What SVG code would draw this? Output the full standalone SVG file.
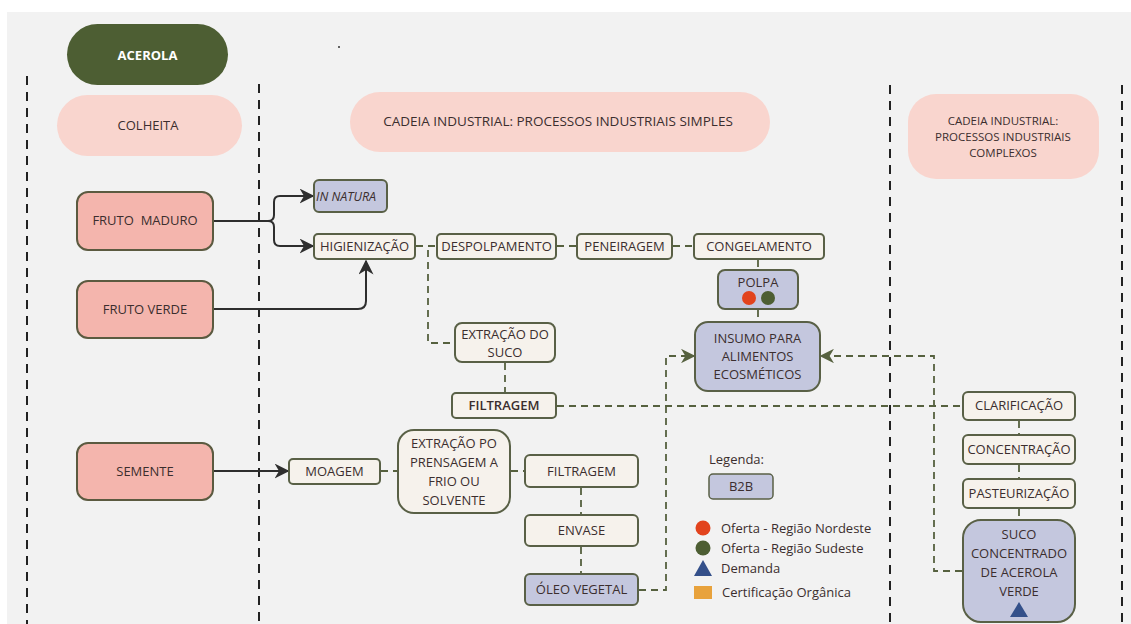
<svg xmlns="http://www.w3.org/2000/svg" width="1131" height="624" viewBox="0 0 1131 624">
  <defs>
    <style>
      text { font-family: "Open Sans", "Noto Sans", "Liberation Sans", sans-serif; fill: #3b2e2e; font-size: 13px; text-anchor: middle; }
      .pill { fill: #f9d5ce; }
      .src { fill: #f4b5ad; stroke: #5b5a40; stroke-width: 2; }
      .step { fill: #f6f2ec; stroke: #596046; stroke-width: 2; }
      .prod { fill: #c4c7de; stroke: #596046; stroke-width: 2; }
      .lane { stroke: #222; stroke-width: 2; stroke-dasharray: 9 7; fill: none; }
      .solid { stroke: #2e2e2e; stroke-width: 2; fill: none; }
      .dash { stroke: #56613f; stroke-width: 1.8; stroke-dasharray: 7 5; fill: none; }
      .leg { text-anchor: start; font-size: 13px; }
    </style>
    <marker id="arrowDark" viewBox="0 0 10 10" refX="9" refY="5" markerWidth="7.5" markerHeight="7.5" orient="auto" markerUnits="strokeWidth">
      <path d="M0,0 L10,5 L0,10 L3,5 Z" fill="#2e2e2e"/>
    </marker>
    <marker id="arrowGreen" viewBox="0 0 10 10" refX="9" refY="5" markerWidth="8" markerHeight="8" orient="auto" markerUnits="strokeWidth">
      <path d="M0,0 L10,5 L0,10 L3,5 Z" fill="#56613f"/>
    </marker>
  </defs>

  <!-- canvas -->
  <rect x="0" y="0" width="1131" height="624" fill="#ffffff"/>
  <rect x="7" y="12" width="1124" height="612" fill="#f2f2f2"/>
  <circle cx="339" cy="47" r="1" fill="#333"/>

  <!-- lane separators -->
  <g id="lanes">
    <line class="lane" x1="27" y1="76" x2="27" y2="624"/>
    <line class="lane" x1="259" y1="84" x2="259" y2="624"/>
    <line class="lane" x1="890" y1="85" x2="890" y2="624"/>
    <line class="lane" x1="1122" y1="85" x2="1122" y2="624"/>
  </g>

  <!-- headers -->
  <g id="acerola">
    <rect x="67" y="24" width="161" height="61" rx="30.5" fill="#4d5e33"/>
    <text x="147.5" y="60" style="fill:#fff;font-weight:700;font-size:13px">ACEROLA</text>
  </g>
  <g id="colheita">
    <rect class="pill" x="57" y="95" width="185" height="61" rx="30.5"/>
    <text x="148" y="130">COLHEITA</text>
  </g>
  <g id="cadeia-simples">
    <rect class="pill" x="350" y="92" width="420" height="60" rx="30"/>
    <text x="558" y="126" style="font-size:13.5px">CADEIA INDUSTRIAL: PROCESSOS INDUSTRIAIS SIMPLES</text>
  </g>
  <g id="cadeia-complexa">
    <rect class="pill" x="908" y="94" width="191" height="85" rx="28"/>
    <text x="1003" y="125" style="font-size:11.5px">CADEIA INDUSTRIAL:</text>
    <text x="1003" y="141" style="font-size:11.5px">PROCESSOS INDUSTRIAIS</text>
    <text x="1003" y="157" style="font-size:11.5px">COMPLEXOS</text>
  </g>

  <!-- connectors -->
  <g id="connectors">
    <!-- solid: harvest to processing -->
    <path class="solid" d="M214,221 H268 Q274,221 274,215 V202 Q274,196 280,196 H313" marker-end="url(#arrowDark)"/>
    <path class="solid" d="M268,221 Q274,221 274,227 V240 Q274,246 280,246 H313" marker-end="url(#arrowDark)"/>
    <path class="solid" d="M214,309 H358 Q366,309 366,301 V261" marker-end="url(#arrowDark)"/>
    <path class="solid" d="M214,471 H288" marker-end="url(#arrowDark)"/>

    <!-- dashed: pulp line -->
    <line class="dash" x1="416" y1="246" x2="437" y2="246"/>
    <line class="dash" x1="557" y1="246" x2="577" y2="246"/>
    <line class="dash" x1="673" y1="246" x2="694" y2="246"/>
    <line class="dash" x1="758" y1="260" x2="758" y2="270"/>
    <line class="dash" x1="758" y1="310" x2="758" y2="322"/>
    <path class="dash" d="M428,250 V343 H455"/>
    <line class="dash" x1="505" y1="363" x2="505" y2="393"/>
    <line class="dash" x1="557" y1="406" x2="963" y2="406"/>

    <!-- dashed: seed line -->
    <line class="dash" x1="381" y1="471" x2="398" y2="471"/>
    <line class="dash" x1="511" y1="471" x2="525" y2="471"/>
    <line class="dash" x1="581" y1="488" x2="581" y2="515"/>
    <line class="dash" x1="581" y1="547" x2="581" y2="574"/>
    <path class="dash" d="M639,590 H666 V356 H694" marker-end="url(#arrowGreen)"/>

    <!-- dashed: complex chain -->
    <line class="dash" x1="1019" y1="421" x2="1019" y2="435"/>
    <line class="dash" x1="1019" y1="465" x2="1019" y2="479"/>
    <line class="dash" x1="1019" y1="509" x2="1019" y2="520"/>
    <path class="dash" d="M962,571 H934 V356 H821" marker-end="url(#arrowGreen)"/>
  </g>

  <!-- harvest nodes -->
  <g id="fruto-maduro">
    <rect class="src" x="77" y="192" width="136" height="58" rx="11"/>
    <text x="145" y="225" xml:space="preserve">FRUTO  MADURO</text>
  </g>
  <g id="fruto-verde">
    <rect class="src" x="77" y="281" width="136" height="57" rx="11"/>
    <text x="145" y="314">FRUTO VERDE</text>
  </g>
  <g id="semente">
    <rect class="src" x="77" y="443" width="136" height="57" rx="11"/>
    <text x="145" y="476">SEMENTE</text>
  </g>

  <!-- simple industrial processes -->
  <g id="in-natura">
    <rect class="prod" x="314" y="180" width="73" height="32" rx="5"/>
    <text x="316" y="201" style="text-anchor:start;font-style:italic;font-size:12.5px">IN NATURA</text>
  </g>
  <g id="higienizacao">
    <rect class="step" x="314" y="234" width="101" height="25" rx="4"/>
    <text x="364.5" y="251">HIGIENIZAÇÃO</text>
  </g>
  <g id="despolpamento">
    <rect class="step" x="437" y="234" width="119" height="25" rx="4"/>
    <text x="496.5" y="251">DESPOLPAMENTO</text>
  </g>
  <g id="peneiragem">
    <rect class="step" x="577" y="234" width="95" height="25" rx="4"/>
    <text x="624.5" y="251">PENEIRAGEM</text>
  </g>
  <g id="congelamento">
    <rect class="step" x="694" y="234" width="130" height="25" rx="4"/>
    <text x="759" y="251">CONGELAMENTO</text>
  </g>
  <g id="polpa">
    <rect class="prod" x="718" y="270" width="80" height="39" rx="7"/>
    <text x="758" y="287">POLPA</text>
    <circle cx="749" cy="298" r="7" fill="#e2431d"/>
    <circle cx="768" cy="298" r="7" fill="#4d5e33"/>
  </g>
  <g id="insumo">
    <rect class="prod" x="695" y="322" width="125" height="69" rx="13"/>
    <text x="757.5" y="343">INSUMO PARA</text>
    <text x="757.5" y="361">ALIMENTOS</text>
    <text x="757.5" y="379">ECOSMÉTICOS</text>
  </g>
  <g id="extracao-suco">
    <rect class="step" x="455" y="323" width="100" height="39" rx="7"/>
    <text x="505" y="339">EXTRAÇÃO DO</text>
    <text x="505" y="357">SUCO</text>
  </g>
  <g id="filtragem-suco">
    <rect class="step" x="452" y="393" width="104" height="25" rx="4"/>
    <text x="504" y="410" style="font-weight:600">FILTRAGEM</text>
  </g>
  <g id="moagem">
    <rect class="step" x="289" y="459" width="91" height="25" rx="4"/>
    <text x="334.5" y="476">MOAGEM</text>
  </g>
  <g id="extracao-oleo">
    <rect class="step" x="398" y="430" width="112" height="83" rx="16"/>
    <text x="454" y="448">EXTRAÇÃO PO</text>
    <text x="454" y="467">PRENSAGEM A</text>
    <text x="454" y="486">FRIO OU</text>
    <text x="454" y="505">SOLVENTE</text>
  </g>
  <g id="filtragem-oleo">
    <rect class="step" x="525" y="455" width="113" height="32" rx="5"/>
    <text x="581.5" y="476">FILTRAGEM</text>
  </g>
  <g id="envase">
    <rect class="step" x="525" y="515" width="113" height="31" rx="5"/>
    <text x="581.5" y="535">ENVASE</text>
  </g>
  <g id="oleo-vegetal">
    <rect class="prod" x="525" y="574" width="113" height="31" rx="5"/>
    <text x="581.5" y="594">ÓLEO VEGETAL</text>
  </g>

  <!-- complex industrial processes -->
  <g id="clarificacao">
    <rect class="step" x="963" y="392" width="112" height="28" rx="5"/>
    <text x="1019" y="410">CLARIFICAÇÃO</text>
  </g>
  <g id="concentracao">
    <rect class="step" x="963" y="435" width="112" height="29" rx="5"/>
    <text x="1019" y="454">CONCENTRAÇÃO</text>
  </g>
  <g id="pasteurizacao">
    <rect class="step" x="963" y="479" width="112" height="29" rx="5"/>
    <text x="1019" y="498">PASTEURIZAÇÃO</text>
  </g>
  <g id="suco-concentrado">
    <rect class="prod" x="963" y="520" width="112" height="102" rx="18"/>
    <text x="1019" y="539">SUCO</text>
    <text x="1019" y="558">CONCENTRADO</text>
    <text x="1019" y="577">DE ACEROLA</text>
    <text x="1019" y="596">VERDE</text>
    <path d="M1019,602 L1028,617 H1010 Z" fill="#34508a"/>
  </g>

  <!-- legend -->
  <g id="legenda">
    <text class="leg" x="709" y="464">Legenda:</text>
    <rect class="prod" x="709" y="474" width="64" height="25" rx="4" style="stroke-width:1.5"/>
    <text x="741" y="491">B2B</text>
    <circle cx="703" cy="528" r="7.5" fill="#e2431d"/>
    <text class="leg" x="721" y="533">Oferta - Região Nordeste</text>
    <circle cx="703" cy="548" r="7.5" fill="#4d5e33"/>
    <text class="leg" x="721" y="553">Oferta - Região Sudeste</text>
    <path d="M703,560 L712,576 H694 Z" fill="#34508a"/>
    <text class="leg" x="721" y="573">Demanda</text>
    <rect x="694" y="586" width="18" height="13" fill="#e8a23c"/>
    <text class="leg" x="722" y="597">Certificação Orgânica</text>
  </g>
</svg>
